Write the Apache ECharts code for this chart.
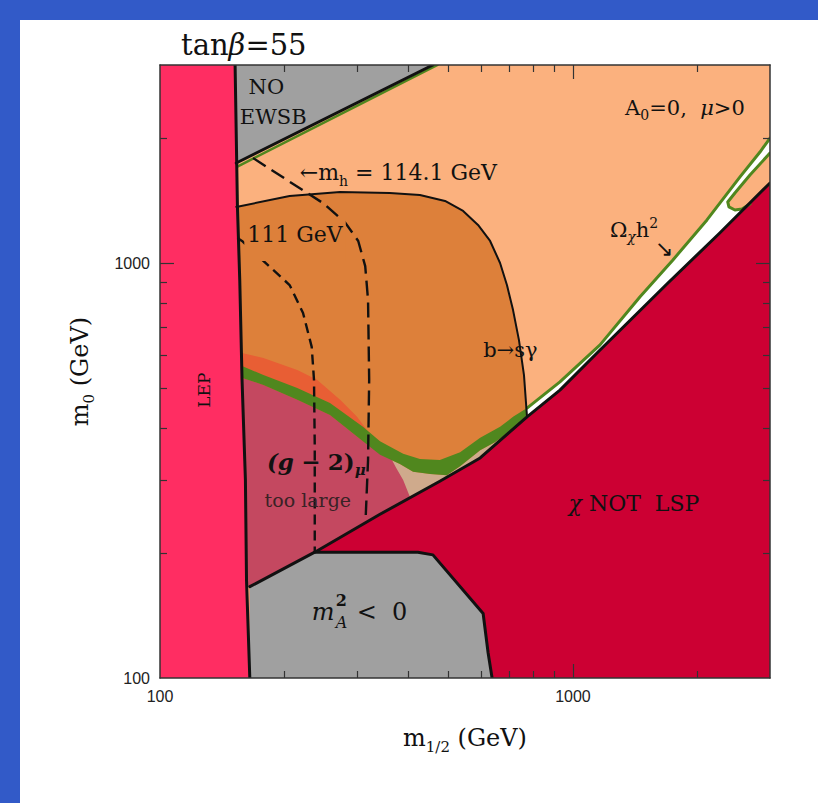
<!DOCTYPE html>
<html>
<head>
<meta charset="utf-8">
<title>tanβ=55</title>
<script src="https://cdn.jsdelivr.net/npm/echarts@6.0.0/dist/echarts.min.js"></script>
<style>
  html, body { margin:0; padding:0; width:818px; height:803px; overflow:hidden; background:#325ac8; }
  #panel { position:absolute; left:20px; top:20px; right:0; bottom:0; background:#ffffff; }
  #chart { position:absolute; left:0; top:0; width:818px; height:803px; }
</style>
</head>
<body>
<div id="panel"></div>
<div id="chart"></div>
<script>
// CMSSM (m1/2, m0) plane for tanβ = 55, A0 = 0, μ > 0. All masses in GeV.

// axis range and ticks
const axisRange = [100, 3000];
const tickLabelValues = [100, 1000];
const majorTickValues = [1000];
const minorTickValues = [200, 300, 400, 500, 600, 700, 800, 900, 2000];

// LEP chargino bound
const lepBoundary = [[152,3000],[154,1365],[156,910],[158,523],[161,300],[162,172],[165,100]];
// no electroweak symmetry breaking boundary
const ewsbBoundary = [[153,1742],[458,3000]];
const ewsbRelicEdge = [[154,1708],[470,3000]];
// charged LSP boundary (χ not LSP below it)
const lspBoundary = [[165,166],[237,201],[341,248],[476,298],[596,339],[774,426],[930,494],[1163,617],[1698,895],[2267,1181],[3000,1559]];
// m_A^2 < 0 boundary
const mA2Boundary = [[237,201],[421,201],[458,198],[606,143],[623,115],[637,100]];
// b → sγ exclusion contour
const bsgBoundary = [[153,1365],[206,1450],[273,1483],[360,1475],[426,1458],[490,1411],[542,1335],[589,1235],[630,1130],[666,1000],[692,885],[716,770],[740,652],[761,537],[774,426]];
// relic density band: upper edge (left→right) and lower edge (right→left)
const relicUpper = [[157,566],[178,537],[215,500],[258,460],[310,403],[341,372],[388,347],[426,337],[476,335],[533,350],[596,379],[666,403],[716,426],[774,447]];
const relicLower = [[774,430],[716,398],[647,370],[596,354],[533,324],[495,308],[451,310],[410,314],[381,328],[341,345],[310,372],[258,430],[215,468],[178,508],[157,530]];
// relic density edge of the coannihilation strip
const relicStrip = [[774,447],[930,517],[1163,635],[1452,828],[1746,1017],[2111,1270],[2538,1612],[2837,1851],[3000,2000]];
// tip of the rapid-annihilation funnel
const funnelEdge = [[3000,1841],[2683,1629],[2467,1475],[2370,1403],[2386,1365],[2467,1342],[2566,1349],[2683,1387]];
// (g-2)_μ regions
const g2Excluded = [[157,546],[178,523],[215,483],[258,445],[310,387],[350,350],[360,343],[373,321],[388,300],[403,273],[341,248],[237,201],[165,166],[157,166]];
const g2Band = [[157,608],[178,590],[215,552],[240,523],[273,468],[300,426],[317,396],[326,375],[310,372],[258,430],[215,468],[178,508],[157,530]];
// Higgs mass contours
const mh1141 = [[168,1791],[203,1585],[248,1395],[280,1256],[302,1130],[314,983],[319,814],[321,523],[319,335],[315,247]];
const mh111 = [[154,1149],[158,1130],[188,962],[206,885],[222,758],[233,628],[236,523],[237,360],[237,201]];

// region polygons assembled from the boundaries
const lo = axisRange[0], hi = axisRange[1];
const allowedRegion = [[lo,lo],[hi,lo],[hi,hi],[lo,hi]];
const lepRegion = [[lo,lo],[lo,hi]].concat(lepBoundary);
const ewsbRegion = [[152,hi]].concat(ewsbBoundary);
const stauRegion = lspBoundary.concat([[hi,lo],[165,lo]]);
const mA2Region = [[165,166]].concat(mA2Boundary, [[165,lo]]);
const bsgRegion = bsgBoundary.concat(lspBoundary.slice(0,5).reverse(), lepBoundary.slice(1,5).reverse());
const tanStrip = relicLower.slice(0,10).concat(lspBoundary.slice(2,6));
const whiteStrip = relicStrip.concat(lspBoundary.slice(5).reverse());
const funnelRegion = funnelEdge.concat([[hi,1559]]);
const relicBand = relicUpper.concat(relicLower);

const serif = '"DejaVu Serif", "Liberation Serif", serif';
const sans = '"Liberation Sans", Arial, sans-serif';
const ink = '#111111';

const colors = {
  allowed: '#fbb17e', bsg: '#dd803a', tan: '#cfaa8c', strip: '#ffffff',
  g2: '#c44860', g2band: '#e85e34', relic: '#50871e', stau: '#cc0033',
  grey: '#a0a0a0', lep: '#ff2d62'
};

function area(name, pts, fill) {
  return {
    type: 'custom', name, coordinateSystem: 'cartesian2d', xAxisIndex: 0, yAxisIndex: 0,
    data: pts, silent: true, clip: true, z: 2,
    renderItem(params, api) {
      if (params.dataIndex !== 0) return null;
      return { type: 'polygon', shape: { points: pts.map(p => api.coord(p)) },
               style: { fill, stroke: 'none' } };
    }
  };
}
function curve(name, pts, stroke, lineWidth, lineDash) {
  return {
    type: 'custom', name, coordinateSystem: 'cartesian2d', xAxisIndex: 0, yAxisIndex: 0,
    data: pts, silent: true, clip: true, z: 3,
    renderItem(params, api) {
      if (params.dataIndex !== 0) return null;
      return { type: 'polyline', shape: { points: pts.map(p => api.coord(p)) },
               style: { fill: 'none', stroke, lineWidth, lineDash: lineDash || null,
                        lineJoin: 'round', lineCap: lineDash ? 'butt' : 'round' } };
    }
  };
}

function richFor(F) {
  const L = Math.round(F * 1.35), s = Math.round(F * 0.65);
  return {
    it:   { fontSize: F, lineHeight: L, fontFamily: serif, fontStyle: 'italic', fill: ink },
    b:    { fontSize: F, lineHeight: L, fontFamily: serif, fontWeight: 'bold', fill: ink },
    bi:   { fontSize: F, lineHeight: L, fontFamily: serif, fontWeight: 'bold', fontStyle: 'italic', fill: ink },
    sub:  { fontSize: s, lineHeight: s, fontFamily: serif, verticalAlign: 'bottom', fill: ink },
    isub: { fontSize: s, lineHeight: s, fontFamily: serif, fontStyle: 'italic', verticalAlign: 'bottom', fill: ink },
    bisub:{ fontSize: s, lineHeight: s, fontFamily: serif, fontStyle: 'italic', fontWeight: 'bold', verticalAlign: 'bottom', fill: ink },
    sup:  { fontSize: s, lineHeight: s, fontFamily: serif, verticalAlign: 'top', fill: ink },
    bsup: { fontSize: 16, lineHeight: 22, fontFamily: serif, fontWeight: 'bold', fill: ink },
    isi:  { fontSize: 16, lineHeight: 22, fontFamily: serif, fontStyle: 'italic', fill: ink }
  };
}

// region and contour labels, anchored in (m1/2, m0)
const notes = [
  { at: [181, 2655], text: 'NO' },
  { at: [188, 2248], text: 'EWSB' },
  { at: [1867, 2363], text: 'A{sub|0}=0,  {it|μ}>0', size: 21 },
  { at: [218, 1648], text: '←m{sub|h} = 114.1 GeV', align: 'left', size: 22 },
  { at: [160, 1136], text: '111 GeV', align: 'left', size: 22, mask: colors.bsg },
  { at: [1229, 1201], text: 'Ω{isub|χ}h{sup|2}', align: 'left', size: 21 },
  { at: [1661, 1081], text: '↘', family: '"DejaVu Sans", sans-serif', size: 22 },
  { at: [606, 617], text: 'b→sγ', align: 'left', size: 21 },
  { at: [1405, 264], text: '{it|χ} NOT  LSP', size: 22 },
  { at: [128, 494], text: 'LEP', rotate: 90, size: 17 },
  { at: [239, 332], text: '{bi|(g} {b|−} {b|2)}{bisub|μ}', size: 23 },
  { at: [228, 269], text: 'too large', size: 19, color: '#3a2226' },
  // m_A^2 < 0 : stem, stacked super/subscript, relation
  { at: [233, 144], text: '{it|m}', align: 'left', size: 24 },
  { at: [233, 144], text: '{bsup|2}\n{isi|A}', align: 'left', size: 16, dx: 24, dy: -1 },
  { at: [233, 144], text: '<  0', align: 'left', size: 24, dx: 45 }
];

const labelSeries = {
  type: 'custom', name: 'labels', coordinateSystem: 'cartesian2d', xAxisIndex: 0, yAxisIndex: 0,
  data: notes.map(n => n.at), silent: true, clip: false, z: 20,
  renderItem(params, api) {
    const n = notes[params.dataIndex];
    const p = api.coord(n.at);
    const F = n.size || 21;
    return {
      type: 'text',
      x: p[0] + (n.dx || 0), y: p[1] + (n.dy || 0),
      rotation: n.rotate ? n.rotate * Math.PI / 180 : 0,
      style: {
        text: n.text, fill: n.color || ink,
        fontSize: F, fontFamily: n.family || serif, fontWeight: 'normal',
        lineHeight: Math.round(F * 1.35),
        align: n.align || 'center', verticalAlign: 'middle',
        rich: richFor(F),
        backgroundColor: n.mask || null,
        padding: n.mask ? [0, 3, 12, 3] : 0
      }
    };
  }
};

const frame = { color: '#333333', width: 1.5 };
const baseAxis = {
  type: 'log', logBase: 10, min: axisRange[0], max: axisRange[1], z: 10,
  splitLine: { show: false }, minorTick: { show: false }, minorSplitLine: { show: false }
};
const labelStyle = {
  customValues: tickLabelValues, fontFamily: sans, fontSize: 16, color: '#222222', margin: 10,
  formatter: v => String(Math.round(v))
};
const minorTicks = { show: true, inside: true, length: 7, customValues: minorTickValues, lineStyle: { color: '#333', width: 1.2 } };
const majorTicks = { show: true, inside: true, length: 14, customValues: majorTickValues, lineStyle: { color: '#333', width: 1.2 } };
const nameStyle = {
  fontFamily: serif, fontSize: 24, lineHeight: 32, color: ink,
  rich: { sub: { fontFamily: serif, fontSize: 15, lineHeight: 15, verticalAlign: 'bottom', color: ink } }
};

const gridBox = { left: 160, right: 48, top: 65, bottom: 125 };

const chart = echarts.init(document.getElementById('chart'), null, { renderer: 'svg', width: 818, height: 803 });
chart.setOption({
  animation: false,
  backgroundColor: 'transparent',
  title: {
    text: '{a|tan}{b|β}{a|=55}', left: 176, top: 25,
    textStyle: { fontFamily: serif, fontSize: 29, fontWeight: 'normal', color: ink, rich: {
      a: { fontFamily: serif, fontSize: 29, fontWeight: 'normal', color: ink },
      b: { fontFamily: serif, fontSize: 29, fontWeight: 'normal', fontStyle: 'italic', color: ink }
    } }
  },
  grid: [Object.assign({}, gridBox), Object.assign({}, gridBox)],
  xAxis: [
    Object.assign({}, baseAxis, { gridIndex: 0, position: 'bottom',
      axisLine: { show: true, lineStyle: frame }, axisTick: minorTicks, axisLabel: labelStyle,
      name: 'm{sub|1/2} (GeV)', nameLocation: 'middle', nameGap: 44, nameTextStyle: nameStyle }),
    Object.assign({}, baseAxis, { gridIndex: 0, position: 'top',
      axisLine: { show: true, lineStyle: frame }, axisTick: minorTicks, axisLabel: { show: false } }),
    Object.assign({}, baseAxis, { gridIndex: 1, position: 'bottom',
      axisLine: { show: false }, axisTick: majorTicks, axisLabel: { show: false } }),
    Object.assign({}, baseAxis, { gridIndex: 1, position: 'top',
      axisLine: { show: false }, axisTick: majorTicks, axisLabel: { show: false } })
  ],
  yAxis: [
    Object.assign({}, baseAxis, { gridIndex: 0, position: 'left',
      axisLine: { show: true, lineStyle: frame }, axisTick: minorTicks, axisLabel: labelStyle,
      name: 'm{sub|0} (GeV)', nameLocation: 'middle', nameGap: 64, nameTextStyle: nameStyle }),
    Object.assign({}, baseAxis, { gridIndex: 0, position: 'right',
      axisLine: { show: true, lineStyle: frame }, axisTick: minorTicks, axisLabel: { show: false } }),
    Object.assign({}, baseAxis, { gridIndex: 1, position: 'left',
      axisLine: { show: false }, axisTick: majorTicks, axisLabel: { show: false } }),
    Object.assign({}, baseAxis, { gridIndex: 1, position: 'right',
      axisLine: { show: false }, axisTick: majorTicks, axisLabel: { show: false } })
  ],
  series: [
    area('allowed', allowedRegion, colors.allowed),
    area('b→sγ excluded', bsgRegion, colors.bsg),
    area('coannihilation strip (b→sγ)', tanStrip, colors.tan),
    area('coannihilation strip', whiteStrip, colors.strip),
    area('funnel', funnelRegion, colors.allowed),
    area('(g-2) too large', g2Excluded, colors.g2),
    area('(g-2) band', g2Band, colors.g2band),
    area('relic density', relicBand, colors.relic),
    area('χ not LSP', stauRegion, colors.stau),
    area('m_A^2 < 0', mA2Region, colors.grey),
    area('no EWSB', ewsbRegion, colors.grey),
    area('LEP', lepRegion, colors.lep),
    curve('relic strip edge', relicStrip, colors.relic, 3),
    curve('funnel edge', funnelEdge, colors.relic, 3),
    curve('EWSB relic edge', ewsbRelicEdge, colors.relic, 2.5),
    curve('b→sγ contour', bsgBoundary, ink, 2),
    curve('LSP boundary', lspBoundary, ink, 3),
    curve('m_A^2 boundary', mA2Boundary, ink, 3),
    curve('EWSB boundary', ewsbBoundary, ink, 3),
    curve('LEP boundary', lepBoundary, ink, 3),
    curve('m_h = 114.1 GeV', mh1141, ink, 2.4, [15, 7]),
    curve('m_h = 111 GeV', mh111, ink, 2.4, [10, 6]),
    labelSeries
  ]
});
</script>
</body>
</html>
